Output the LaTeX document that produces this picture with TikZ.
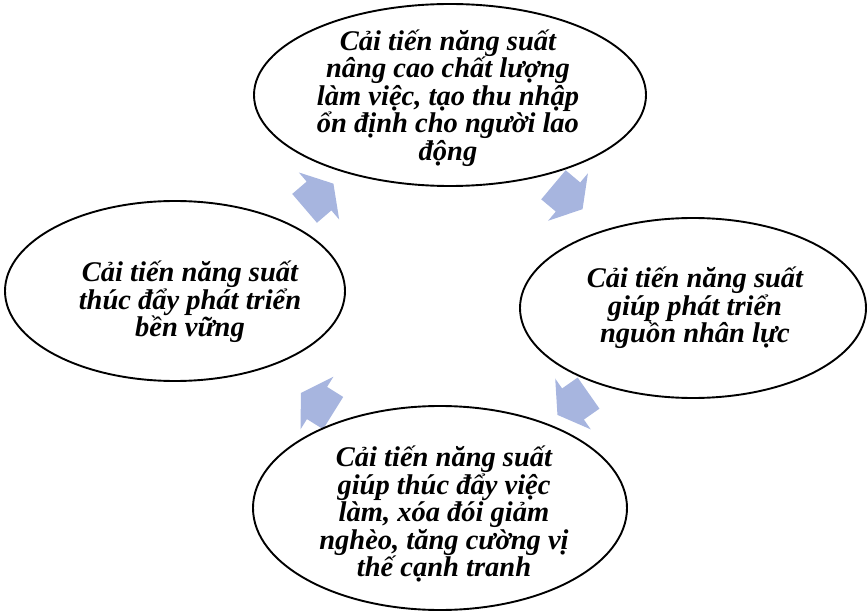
\documentclass[tikz,border=0pt]{standalone}
\usepackage{fontspec}
\setmainfont{Liberation Serif}
\usetikzlibrary{shapes.geometric}
\definecolor{arrowfill}{RGB}{167,181,223}
\tikzset{
  bubble/.style={draw=black, line width=1.9pt, ellipse, inner sep=0pt, fill=white},
  caption/.style={align=center, inner sep=0pt,
    font=\fontsize{28.5}{27.5}\selectfont\bfseries\itshape},
  cyclearrow/.pic={
    \fill[arrowfill] (-19,-19) -- (0,-19) -- (0,-31) -- (19,0)
      -- (0,31) -- (0,19) -- (-19,19) -- cycle;
  },
}
\begin{document}
\begin{tikzpicture}[x=1pt, y=-1pt]
  \useasboundingbox (0,0) rectangle (867,612);

  % block arrows running clockwise round the cycle
  \coordinate (arrA) at (319,196);
  \coordinate (arrB) at (568,197);
  \coordinate (arrC) at (573,404);
  \coordinate (arrD) at (317,403);
  \pic[rotate=40.6] at (arrA) {cyclearrow};
  \pic[rotate=-40] at (arrB) {cyclearrow};
  \pic[rotate=-145] at (arrC) {cyclearrow};
  \pic[rotate=148] at (arrD) {cyclearrow};

  % the four ellipses
  \node[bubble, minimum width=392pt, minimum height=182pt] (top) at (450,95) {};
  \node[bubble, minimum width=346pt, minimum height=180pt] (right) at (693,308) {};
  \node[bubble, minimum width=374pt, minimum height=204pt] (bottom) at (440,508) {};
  \node[bubble, minimum width=340pt, minimum height=180pt] (left) at (175,291) {};

  % their captions
  \node[caption] (topText) at (448,98) {Cải tiến năng suất\\nâng cao chất lượng\\làm việc, tạo thu nhập\\ổn định cho người lao\\động};
  \node[caption] (rightText) at (695,308) {Cải tiến năng suất\\giúp phát triển\\nguồn nhân lực};
  \node[caption] (bottomText) at (444,514) {Cải tiến năng suất\\giúp thúc đẩy việc\\làm, xóa đói giảm\\nghèo, tăng cường vị\\thế cạnh tranh};
  \node[caption] (leftText) at (190,302) {Cải tiến năng suất\\thúc đẩy phát triển\\bền vững};
\end{tikzpicture}
\end{document}
